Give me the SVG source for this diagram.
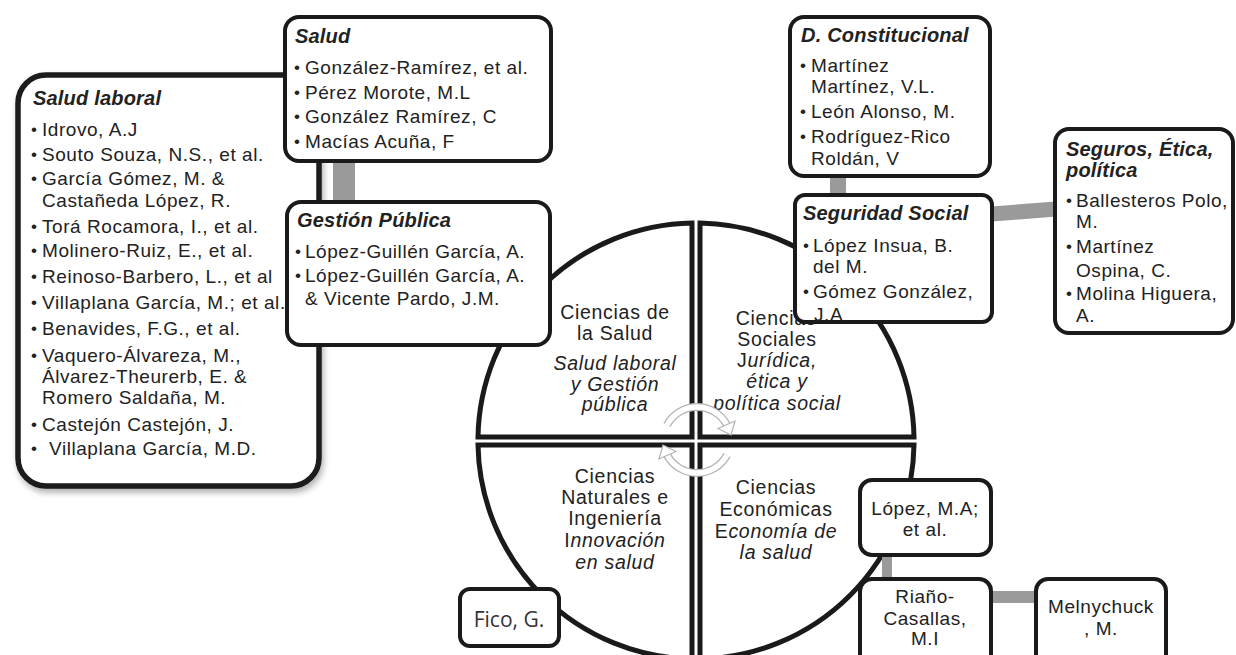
<svg xmlns="http://www.w3.org/2000/svg" width="1236" height="655" viewBox="0 0 1236 655">
<defs>
<style>
.q{fill:#fff;stroke:#1a1a1a;stroke-width:5}
.box{fill:#fff;stroke:#1a1a1a;stroke-width:4}
.big{fill:#fff;stroke:#1a1a1a;stroke-width:5.5}
.t{font-family:"Liberation Sans",Arial,sans-serif;font-size:19px;letter-spacing:0.55px;fill:#222}
.h{font-family:"Liberation Sans",Arial,sans-serif;font-size:20px;font-weight:bold;font-style:italic;fill:#222;letter-spacing:0.2px}
.b{font-family:"Liberation Sans",Arial,sans-serif;font-size:17px;fill:#222}
.c{font-family:"Liberation Sans",Arial,sans-serif;font-size:19.5px;letter-spacing:0.7px;fill:#222;text-anchor:middle}
.i{font-style:italic}
.m{text-anchor:middle}
.gray{fill:#9a9a9a}
.arcO{fill:none;stroke:#b4b4b4;stroke-width:8}
.arcI{fill:none;stroke:#fff;stroke-width:5.5}
.ah{fill:#fff;stroke:#b4b4b4;stroke-width:1.2}
</style>
<filter id="sh" x="-10%" y="-10%" width="120%" height="120%">
<feDropShadow dx="2" dy="4" stdDeviation="3" flood-color="#000" flood-opacity="0.3"/>
</filter>
</defs>
<rect width="1236" height="655" fill="#fff"/>

<g id="q-salud">
<path class="q" d="M692 437 L692 223 A218 218 0 0 0 478 437 Z"/>
<text class="c" x="615" y="319">Ciencias de</text>
<text class="c" x="615" y="340">la Salud</text>
<text class="c i" x="615" y="370">Salud laboral</text>
<text class="c i" x="615" y="391">y Gestión</text>
<text class="c i" x="615" y="411">pública</text>
</g>
<g id="q-sociales">
<path class="q" d="M700 437 L700 223 A218 218 0 0 1 914 437 Z"/>
<text class="c" x="776" y="325">Ciencias</text>
<text class="c" x="777" y="346">Sociales</text>
<text class="c" x="777" y="367">J<tspan class="i">urídica,</tspan></text>
<text class="c i" x="777" y="388">ética y</text>
<text class="c i" x="777" y="410">política social</text>
</g>
<g id="q-naturales">
<path class="q" d="M692 445 L478 445 A218 218 0 0 0 692 659 Z"/>
<text class="c" x="615" y="483">Ciencias</text>
<text class="c" x="615" y="504">Naturales e</text>
<text class="c" x="615" y="525">Ingeniería</text>
<text class="c" x="615" y="547">I<tspan class="i">nnovación</tspan></text>
<text class="c i" x="615" y="569">en salud</text>
</g>
<g id="q-economicas">
<path class="q" d="M700 445 L914 445 A218 218 0 0 1 700 659 Z"/>
<text class="c" x="776" y="494">Ciencias</text>
<text class="c" x="776" y="516">Económicas</text>
<text class="c" x="776" y="538">E<tspan class="i">conomía de</tspan></text>
<text class="c i" x="776" y="559">la salud</text>
</g>

<g id="cycle">
<path class="arcO" d="M667 425 A34 34 0 0 1 727 425"/>
<path class="arcI" d="M667 425 A34 34 0 0 1 727 425"/>
<polygon class="ah" points="731,435 735,421 718,428.5"/>
<path class="arcO" d="M727 455 A34 34 0 0 1 667 455"/>
<path class="arcI" d="M727 455 A34 34 0 0 1 667 455"/>
<polygon class="ah" points="663,445 659,459 676,451.5"/>
</g>

<g id="connectors">
<rect class="gray" x="333" y="161" width="22" height="41"/>
<rect class="gray" x="830" y="175" width="16" height="21"/>
<line x1="992" y1="214" x2="1056" y2="209" stroke="#9a9a9a" stroke-width="15"/>
<rect class="gray" x="882" y="554" width="10" height="27"/>
<rect class="gray" x="990" y="591" width="48" height="12"/>
</g>

<g id="n-salud-laboral">
<rect class="big" x="18" y="75" width="301" height="411" rx="28" filter="url(#sh)"/>
<text class="h" x="33" y="105">Salud laboral</text>
<text class="b" x="31" y="135">•</text><text class="t" x="42" y="136">Idrovo, A.J</text>
<text class="b" x="31" y="159.5">•</text><text class="t" x="42" y="160.5">Souto Souza, N.S., et al.</text>
<text class="b" x="31" y="184">•</text><text class="t" x="42" y="185">García Gómez, M. &amp;</text>
<text class="t" x="42" y="207">Castañeda López, R.</text>
<text class="b" x="31" y="232">•</text><text class="t" x="42" y="233">Torá Rocamora, I., et al.</text>
<text class="b" x="31" y="256">•</text><text class="t" x="42" y="257">Molinero-Ruiz, E., et al.</text>
<text class="b" x="31" y="282">•</text><text class="t" x="42" y="283">Reinoso-Barbero, L., et al</text>
<text class="b" x="31" y="308">•</text><text class="t" x="42" y="309">Villaplana García, M.; et al.</text>
<text class="b" x="31" y="334">•</text><text class="t" x="42" y="335">Benavides, F.G., et al.</text>
<text class="b" x="31" y="361">•</text><text class="t" x="42" y="362">Vaquero-Álvareza, M.,</text>
<text class="t" x="42" y="383">Álvarez-Theurerb, E. &amp;</text>
<text class="t" x="42" y="404">Romero Saldaña, M.</text>
<text class="b" x="31" y="430">•</text><text class="t" x="42" y="431">Castejón Castejón, J.</text>
<text class="b" x="31" y="454">•</text><text class="t" x="49" y="455">Villaplana García, M.D.</text>
</g>

<g id="n-salud">
<rect class="box" x="285" y="17" width="266" height="144" rx="14"/>
<text class="h" x="295" y="43">Salud</text>
<text class="b" x="294" y="73">•</text><text class="t" x="305" y="74">González-Ramírez,  et al.</text>
<text class="b" x="294" y="98">•</text><text class="t" x="305" y="99">Pérez Morote, M.L</text>
<text class="b" x="294" y="122">•</text><text class="t" x="305" y="123">González Ramírez, C</text>
<text class="b" x="294" y="147">•</text><text class="t" x="305" y="148">Macías Acuña, F</text>
</g>

<g id="n-gestion">
<rect class="box" x="287" y="202" width="263" height="143" rx="14"/>
<text class="h" x="297" y="227">Gestión Pública</text>
<text class="b" x="295" y="257">•</text><text class="t" x="305" y="258">López-Guillén García, A.</text>
<text class="b" x="295" y="281">•</text><text class="t" x="305" y="282">López-Guillén García, A.</text>
<text class="t" x="305" y="305">&amp; Vicente Pardo, J.M.</text>
</g>

<g id="n-constitucional">
<rect class="box" x="790" y="17" width="200" height="159" rx="14"/>
<text class="h" x="801" y="42">D. Constitucional</text>
<text class="b" x="800" y="71">•</text><text class="t" x="811" y="72">Martínez</text>
<text class="t" x="811" y="93">Martínez, V.L.</text>
<text class="b" x="800" y="117">•</text><text class="t" x="811" y="118">León Alonso, M.</text>
<text class="b" x="800" y="142">•</text><text class="t" x="811" y="143">Rodríguez-Rico</text>
<text class="t" x="811" y="165">Roldán, V</text>
</g>

<g id="n-seguridad">
<rect class="box" x="795" y="195" width="197" height="127" rx="10"/>
<text class="h" x="803" y="220">Seguridad Social</text>
<text class="b" x="803" y="251">•</text><text class="t" x="813" y="252">López Insua, B.</text>
<text class="t" x="813" y="273">del M.</text>
<text class="b" x="803" y="297">•</text><text class="t" x="813" y="298">Gómez González,</text>
<text class="t" x="814" y="321">J.A</text>
</g>

<g id="n-seguros">
<rect class="box" x="1055" y="129" width="178" height="204" rx="14"/>
<text class="h" x="1066" y="156">Seguros, Ética,</text>
<text class="h" x="1066" y="177">política</text>
<text class="b" x="1066" y="206">•</text><text class="t" x="1076" y="207">Ballesteros Polo,</text>
<text class="t" x="1076" y="228">M.</text>
<text class="b" x="1066" y="252">•</text><text class="t" x="1076" y="253">Martínez</text>
<text class="t" x="1076" y="277">Ospina, C.</text>
<text class="b" x="1066" y="299">•</text><text class="t" x="1076" y="300">Molina Higuera,</text>
<text class="t" x="1076" y="322">A.</text>
</g>

<g id="n-lopez">
<rect class="box" x="860" y="480" width="131" height="75" rx="12"/>
<text class="t m" x="925" y="515">López, M.A;</text>
<text class="t m" x="925" y="536">et al.</text>
</g>

<g id="n-riano">
<rect class="box" x="860" y="579" width="131" height="92" rx="12"/>
<text class="t m" x="925" y="603">Riaño-</text>
<text class="t m" x="925" y="625">Casallas,</text>
<text class="t m" x="925" y="645">M.I</text>
</g>

<g id="n-melnychuck">
<rect class="box" x="1036" y="579" width="130" height="92" rx="12"/>
<text class="t m" x="1101" y="613">Melnychuck</text>
<text class="t m" x="1101" y="635">, M.</text>
</g>

<g id="n-fico">
<rect class="box" x="460" y="589" width="99" height="57" rx="10"/>
<text x="509" y="627" text-anchor="middle" font-family="'Open Sans','Noto Sans',sans-serif" font-size="21" fill="#333">Fico, G.</text>
</g>
</svg>
